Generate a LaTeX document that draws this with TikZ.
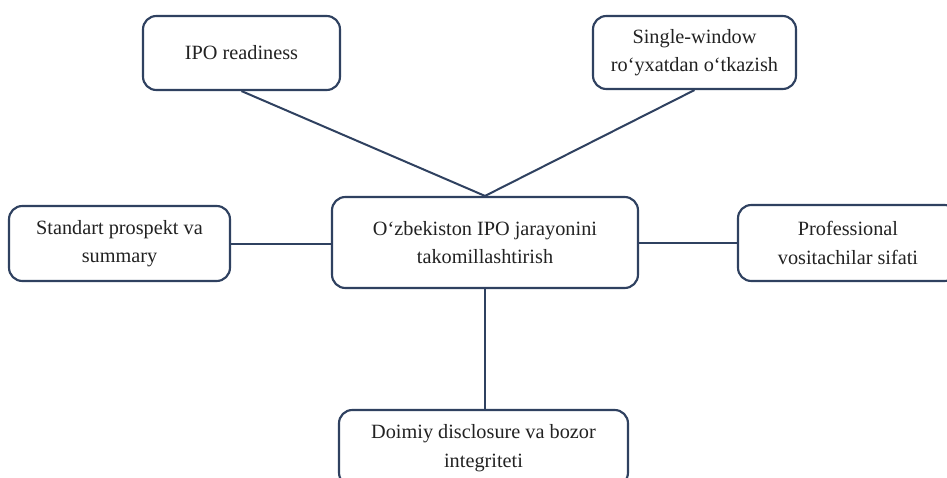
\documentclass[tikz,border=0pt]{standalone}
\usepackage{fontspec}
\setmainfont{Liberation Serif}
\definecolor{edge}{HTML}{2F4160}
\definecolor{txt}{HTML}{222222}
\begin{document}
\begin{tikzpicture}[x=0.75pt,y=-0.75pt,
  boxx/.style={draw=edge,line width=1.6pt,rounded corners=10pt,fill=white,
    align=center,font=\fontsize{15.2}{21.5}\selectfont,text=txt,inner sep=0pt},
  sz/.style 2 args={minimum width=#1*0.75pt,minimum height=#2*0.75pt},
  conn/.style={draw=edge,line width=1.5pt}]
\useasboundingbox (0,0) rectangle (947,478);
\clip (0,0) rectangle (947,478);
\fill[white] (0,0) rectangle (947,478);
\node[boxx,sz={197}{74}] (ipo) at (241.5,53) {IPO readiness};
\node[boxx,sz={203}{73}] (sw) at (694.5,52.5) {Single-window\\ro‘yxatdan o‘tkazish};
\node[boxx,sz={306}{91}] (cen) at (485,242.5) {O‘zbekiston IPO jarayonini\\takomillashtirish};
\node[boxx,sz={221}{75}] (std) at (119.5,243.5) {Standart prospekt va\\summary};
\node[boxx,sz={220}{76}] (pro) at (848,243) {Professional\\vositachilar sifati};
\node[boxx,sz={289}{76}] (doi) at (483.5,448) {Doimiy disclosure va bozor\\integriteti};
\draw[conn] (ipo.south) -- (cen.north);
\draw[conn] (sw.south) -- (cen.north);
\draw[conn] (std.east) -- (std.east -| cen.west);
\draw[conn] (cen.east |- pro.west) -- (pro.west);
\draw[conn] (cen.south) -- (cen.south |- doi.north);
\end{tikzpicture}
\end{document}
